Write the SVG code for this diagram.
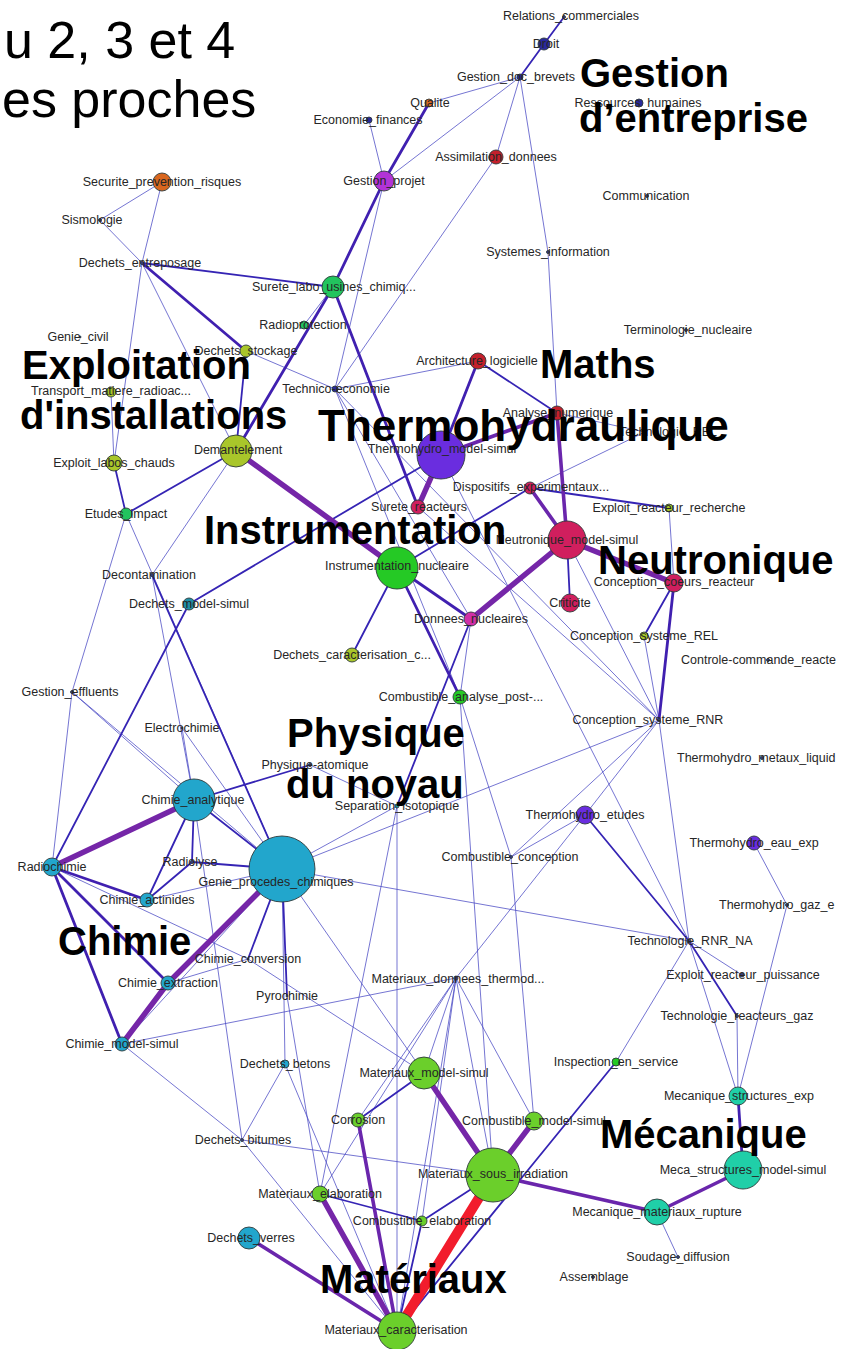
<svg xmlns="http://www.w3.org/2000/svg" width="843" height="1349" viewBox="0 0 843 1349">
<style>
.bg{fill:#ffffff}
line{stroke-linecap:round}
.t{stroke:#4a4ac4;stroke-width:0.9;stroke-opacity:0.85}
.m{stroke:#3524b4;stroke-width:1.8}
.h{stroke:#4020b0;stroke-width:2.8}
.q{stroke:#6a26ac;stroke-width:3.6}
.p{stroke:#7526a8;stroke-width:5.5}
.r{stroke:#f21c2c;stroke-width:10}
circle{stroke:#2e3a3a;stroke-width:0.9}
.or{fill:#d8661e}.db{fill:#2a2a9c}.pu{fill:#b233d6}.rd{fill:#c4202c}.gr{fill:#22c45e}
.yg{fill:#a9c62a}.vi{fill:#6a2ddf}.cr{fill:#d01f5e}.mg{fill:#d02fa8}.bgr{fill:#25c925}
.tb{fill:#1f8fa5}.cy{fill:#22a6cc}.li{fill:#6bcf2b}.te{fill:#20cfa8}.sm{fill:#3a3a8a}
text{font-family:"Liberation Sans",Arial,sans-serif}
.lb{font-size:12.5px;fill:#262626;text-anchor:middle}
.ls{font-size:12.5px;fill:#262626}
.cat{font-size:40px;font-weight:bold;fill:#000}
.ti{font-size:52px;fill:#000}
</style>
<rect class="bg" x="0" y="0" width="843" height="1349"/>
<g id="connectors">
<line class="t" x1="520" y1="77" x2="429" y2="103"/>
<line class="t" x1="520" y1="77" x2="384" y2="181"/>
<line class="t" x1="520" y1="77" x2="496" y2="157"/>
<line class="t" x1="520" y1="77" x2="548" y2="252"/>
<line class="t" x1="548" y1="252" x2="557" y2="413"/>
<line class="t" x1="369" y1="120" x2="384" y2="181"/>
<line class="t" x1="384" y1="181" x2="335" y2="389"/>
<line class="t" x1="496" y1="157" x2="335" y2="389"/>
<line class="t" x1="162" y1="182" x2="100" y2="220"/>
<line class="t" x1="100" y1="220" x2="142" y2="263"/>
<line class="t" x1="162" y1="182" x2="142" y2="263"/>
<line class="t" x1="142" y1="263" x2="114" y2="463"/>
<line class="t" x1="142" y1="263" x2="236" y2="451"/>
<line class="t" x1="333" y1="287" x2="304" y2="325"/>
<line class="t" x1="246" y1="351" x2="335" y2="389"/>
<line class="t" x1="335" y1="389" x2="478" y2="361"/>
<line class="t" x1="335" y1="389" x2="471" y2="619"/>
<line class="t" x1="335" y1="389" x2="659" y2="720"/>
<line class="t" x1="335" y1="389" x2="460" y2="697"/>
<line class="t" x1="557" y1="413" x2="645" y2="432"/>
<line class="t" x1="645" y1="432" x2="530" y2="488"/>
<line class="t" x1="441" y1="455" x2="689" y2="941"/>
<line class="t" x1="567" y1="540" x2="659" y2="720"/>
<line class="t" x1="669" y1="508" x2="674" y2="583"/>
<line class="t" x1="644" y1="636" x2="659" y2="720"/>
<line class="t" x1="236" y1="451" x2="152" y2="575"/>
<line class="t" x1="111" y1="392" x2="114" y2="463"/>
<line class="t" x1="126" y1="514" x2="72" y2="692"/>
<line class="t" x1="126" y1="514" x2="282" y2="869"/>
<line class="t" x1="152" y1="575" x2="194" y2="800"/>
<line class="t" x1="418" y1="507" x2="659" y2="720"/>
<line class="t" x1="471" y1="619" x2="460" y2="697"/>
<line class="t" x1="310" y1="765" x2="397" y2="806"/>
<line class="t" x1="52" y1="867" x2="72" y2="692"/>
<line class="t" x1="52" y1="867" x2="248" y2="959"/>
<line class="t" x1="194" y1="800" x2="242" y2="1140"/>
<line class="t" x1="147" y1="900" x2="282" y2="869"/>
<line class="t" x1="168" y1="983" x2="248" y2="959"/>
<line class="t" x1="282" y1="869" x2="285" y2="1064"/>
<line class="t" x1="282" y1="869" x2="659" y2="720"/>
<line class="t" x1="282" y1="869" x2="689" y2="941"/>
<line class="t" x1="282" y1="869" x2="397" y2="806"/>
<line class="t" x1="282" y1="869" x2="122" y2="1044"/>
<line class="t" x1="282" y1="869" x2="424" y2="1073"/>
<line class="t" x1="72" y1="692" x2="282" y2="869"/>
<line class="t" x1="72" y1="692" x2="194" y2="800"/>
<line class="t" x1="182" y1="728" x2="282" y2="869"/>
<line class="t" x1="182" y1="728" x2="194" y2="800"/>
<line class="t" x1="397" y1="806" x2="397" y2="1331"/>
<line class="t" x1="397" y1="806" x2="320" y2="1194"/>
<line class="t" x1="460" y1="697" x2="511" y2="857"/>
<line class="t" x1="511" y1="857" x2="585" y2="815"/>
<line class="t" x1="511" y1="857" x2="659" y2="720"/>
<line class="t" x1="511" y1="857" x2="534" y2="1121"/>
<line class="t" x1="585" y1="815" x2="456" y2="978"/>
<line class="t" x1="585" y1="815" x2="659" y2="720"/>
<line class="t" x1="659" y1="720" x2="689" y2="941"/>
<line class="t" x1="689" y1="941" x2="742" y2="975"/>
<line class="t" x1="689" y1="941" x2="738" y2="1096"/>
<line class="t" x1="689" y1="941" x2="616" y2="1062"/>
<line class="t" x1="737" y1="1016" x2="738" y2="1096"/>
<line class="t" x1="754" y1="843" x2="787" y2="905"/>
<line class="t" x1="787" y1="905" x2="738" y2="1096"/>
<line class="t" x1="657" y1="1212" x2="678" y2="1257"/>
<line class="t" x1="122" y1="1044" x2="456" y2="978"/>
<line class="t" x1="122" y1="1044" x2="242" y2="1140"/>
<line class="t" x1="242" y1="1140" x2="285" y2="1064"/>
<line class="t" x1="242" y1="1140" x2="493" y2="1175"/>
<line class="t" x1="242" y1="1140" x2="397" y2="1331"/>
<line class="t" x1="285" y1="1064" x2="397" y2="1331"/>
<line class="t" x1="287" y1="996" x2="320" y2="1194"/>
<line class="t" x1="248" y1="959" x2="424" y2="1073"/>
<line class="t" x1="456" y1="978" x2="424" y2="1073"/>
<line class="t" x1="456" y1="978" x2="493" y2="1175"/>
<line class="t" x1="456" y1="978" x2="534" y2="1121"/>
<line class="t" x1="456" y1="978" x2="320" y2="1194"/>
<line class="t" x1="456" y1="978" x2="422" y2="1221"/>
<line class="t" x1="456" y1="978" x2="397" y2="1331"/>
<line class="t" x1="456" y1="978" x2="358" y2="1120"/>
<line class="t" x1="460" y1="697" x2="493" y2="1175"/>
<line class="m" x1="564" y1="17" x2="544" y2="44"/>
<line class="m" x1="544" y1="44" x2="520" y2="77"/>
<line class="m" x1="142" y1="263" x2="333" y2="287"/>
<line class="m" x1="246" y1="351" x2="236" y2="451"/>
<line class="m" x1="478" y1="361" x2="557" y2="413"/>
<line class="m" x1="530" y1="488" x2="669" y2="508"/>
<line class="m" x1="530" y1="488" x2="397" y2="568"/>
<line class="m" x1="189" y1="604" x2="441" y2="455"/>
<line class="m" x1="567" y1="540" x2="570" y2="603"/>
<line class="m" x1="674" y1="583" x2="644" y2="636"/>
<line class="m" x1="397" y1="568" x2="352" y2="655"/>
<line class="m" x1="236" y1="451" x2="126" y2="514"/>
<line class="m" x1="114" y1="463" x2="126" y2="514"/>
<line class="m" x1="152" y1="575" x2="282" y2="869"/>
<line class="m" x1="189" y1="604" x2="52" y2="867"/>
<line class="m" x1="471" y1="619" x2="397" y2="806"/>
<line class="m" x1="194" y1="800" x2="310" y2="765"/>
<line class="m" x1="194" y1="800" x2="147" y2="900"/>
<line class="m" x1="194" y1="800" x2="192" y2="862"/>
<line class="m" x1="194" y1="800" x2="282" y2="869"/>
<line class="m" x1="192" y1="862" x2="282" y2="869"/>
<line class="m" x1="192" y1="862" x2="147" y2="900"/>
<line class="m" x1="282" y1="869" x2="248" y2="959"/>
<line class="m" x1="282" y1="869" x2="287" y2="996"/>
<line class="m" x1="585" y1="815" x2="689" y2="941"/>
<line class="m" x1="689" y1="941" x2="737" y2="1016"/>
<line class="m" x1="616" y1="1062" x2="397" y2="1331"/>
<line class="m" x1="424" y1="1073" x2="358" y2="1120"/>
<line class="m" x1="422" y1="1221" x2="397" y2="1331"/>
<line class="m" x1="422" y1="1221" x2="493" y2="1175"/>
<line class="m" x1="320" y1="1194" x2="422" y2="1221"/>
<line class="h" x1="429" y1="103" x2="384" y2="181"/>
<line class="h" x1="384" y1="181" x2="333" y2="287"/>
<line class="h" x1="142" y1="263" x2="246" y2="351"/>
<line class="h" x1="333" y1="287" x2="418" y2="507"/>
<line class="h" x1="333" y1="287" x2="236" y2="451"/>
<line class="h" x1="478" y1="361" x2="441" y2="455"/>
<line class="h" x1="674" y1="583" x2="659" y2="720"/>
<line class="h" x1="397" y1="568" x2="471" y2="619"/>
<line class="h" x1="397" y1="568" x2="460" y2="697"/>
<line class="h" x1="52" y1="867" x2="147" y2="900"/>
<line class="h" x1="52" y1="867" x2="168" y2="983"/>
<line class="h" x1="52" y1="867" x2="122" y2="1044"/>
<line class="h" x1="738" y1="1096" x2="743" y2="1170"/>
<line class="q" x1="441" y1="455" x2="557" y2="413"/>
<line class="q" x1="557" y1="413" x2="567" y2="540"/>
<line class="q" x1="530" y1="488" x2="567" y2="540"/>
<line class="q" x1="743" y1="1170" x2="657" y2="1212"/>
<line class="q" x1="493" y1="1175" x2="657" y2="1212"/>
<line class="q" x1="358" y1="1120" x2="397" y2="1331"/>
<line class="q" x1="249" y1="1238" x2="397" y2="1331"/>
<line class="p" x1="441" y1="455" x2="418" y2="507"/>
<line class="p" x1="567" y1="540" x2="674" y2="583"/>
<line class="p" x1="567" y1="540" x2="471" y2="619"/>
<line class="p" x1="236" y1="451" x2="397" y2="568"/>
<line class="p" x1="194" y1="800" x2="52" y2="867"/>
<line class="p" x1="282" y1="869" x2="168" y2="983"/>
<line class="p" x1="168" y1="983" x2="122" y2="1044"/>
<line class="p" x1="424" y1="1073" x2="493" y2="1175"/>
<line class="p" x1="534" y1="1121" x2="493" y2="1175"/>
<line class="p" x1="320" y1="1194" x2="397" y2="1331"/>
<line class="r" x1="493" y1="1175" x2="397" y2="1331"/>
</g>
<g id="n-relations"><circle class="sm" cx="564" cy="17" r="1.5"/><text class="lb" x="571" y="20">Relations_commerciales</text></g>
<g id="n-droit"><circle class="db" cx="544" cy="44" r="6"/><text class="lb" x="546" y="48">Droit</text></g>
<g id="n-gestion-doc"><circle class="db" cx="520" cy="77" r="3"/><text class="lb" x="516" y="81">Gestion_doc_brevets</text></g>
<g id="n-qualite"><circle class="or" cx="429" cy="103" r="4"/><text class="lb" x="430" y="107">Qualite</text></g>
<g id="n-economie"><circle class="db" cx="369" cy="120" r="3"/><text class="lb" x="368" y="124">Economie_finances</text></g>
<g id="n-assimilation"><circle class="rd" cx="496" cy="157" r="7"/><text class="lb" x="496" y="161">Assimilation_donnees</text></g>
<g id="n-gestion-projet"><circle class="pu" cx="384" cy="181" r="10"/><text class="lb" x="384" y="185">Gestion_projet</text></g>
<g id="n-ressources"><circle class="db" cx="639" cy="103" r="4"/><text class="lb" x="638" y="107">Ressources_humaines</text></g>
<g id="n-communication"><circle class="sm" cx="647" cy="196" r="1.5"/><text class="lb" x="646" y="200">Communication</text></g>
<g id="n-systemes"><circle class="sm" cx="548" cy="252" r="1.5"/><text class="lb" x="548" y="256">Systemes_information</text></g>
<g id="n-terminologie"><circle class="sm" cx="686" cy="330" r="1.5"/><text class="lb" x="688" y="334">Terminologie_nucleaire</text></g>
<g id="n-securite"><circle class="or" cx="162" cy="182" r="9"/><text class="lb" x="162" y="186">Securite_prevention_risques</text></g>
<g id="n-sismologie"><circle class="sm" cx="100" cy="220" r="1.5"/><text class="lb" x="92" y="224">Sismologie</text></g>
<g id="n-dechets-entreposage"><circle class="sm" cx="142" cy="263" r="1.5"/><text class="lb" x="140" y="267">Dechets_entreposage</text></g>
<g id="n-surete-labo"><circle class="gr" cx="333" cy="287" r="11"/><text class="lb" x="334" y="291">Surete_labo_usines_chimiq...</text></g>
<g id="n-radioprotection"><circle class="gr" cx="304" cy="325" r="4"/><text class="lb" x="303" y="329">Radioprotection</text></g>
<g id="n-genie-civil"><circle class="sm" cx="80" cy="337" r="1"/><text class="lb" x="78" y="341">Genie_civil</text></g>
<g id="n-dechets-stockage"><circle class="yg" cx="246" cy="351" r="6"/><text class="lb" x="246" y="355">Dechets_stockage</text></g>
<g id="n-transport"><circle class="yg" cx="111" cy="392" r="5"/><text class="lb" x="111" y="395">Transport_matiere_radioac...</text></g>
<g id="n-technico"><circle class="db" cx="335" cy="389" r="3"/><text class="lb" x="336" y="393">Technico-economie</text></g>
<g id="n-architecture"><circle class="rd" cx="478" cy="361" r="8"/><text class="lb" x="477" y="365">Architecture_logicielle</text></g>
<g id="n-analyse"><circle class="rd" cx="557" cy="413" r="7"/><text class="lb" x="558" y="417">Analyse_numerique</text></g>
<g id="n-techno-rel"><circle class="sm" cx="645" cy="432" r="1.5"/><text class="lb" x="668" y="436">Technologie_REL</text></g>
<g id="n-thermo-model"><circle class="vi" cx="441" cy="455" r="24"/><text class="lb" x="442" y="453">Thermohydro_model-simul</text></g>
<g id="n-demantelement"><circle class="yg" cx="236" cy="451" r="16"/><text class="lb" x="238" y="454">Demantelement</text></g>
<g id="n-exploit-labos"><circle class="yg" cx="114" cy="463" r="8"/><text class="lb" x="114" y="467">Exploit_labos_chauds</text></g>
<g id="n-dispositifs"><circle class="cr" cx="530" cy="488" r="6"/><text class="lb" x="531" y="491">Dispositifs_experimentaux...</text></g>
<g id="n-exploit-recherche"><circle class="yg" cx="669" cy="508" r="4"/><text class="lb" x="669" y="512">Exploit_reacteur_recherche</text></g>
<g id="n-etudes-impact"><circle class="gr" cx="126" cy="514" r="6"/><text class="lb" x="126" y="518">Etudes_impact</text></g>
<g id="n-surete-reacteurs"><circle class="cr" cx="418" cy="507" r="7"/><text class="lb" x="419" y="511">Surete_reacteurs</text></g>
<g id="n-neutro-model"><circle class="cr" cx="567" cy="540" r="19"/><text class="lb" x="567" y="544">Neutronique_model-simul</text></g>
<g id="n-instrumentation"><circle class="bgr" cx="397" cy="568" r="21"/><text class="lb" x="397" y="570">Instrumentation_nucleaire</text></g>
<g id="n-conception-coeurs"><circle class="cr" cx="674" cy="583" r="9"/><text class="lb" x="674" y="586">Conception_coeurs_reacteur</text></g>
<g id="n-decontamination"><circle class="sm" cx="152" cy="575" r="1.5"/><text class="lb" x="149" y="579">Decontamination</text></g>
<g id="n-dechets-model"><circle class="tb" cx="189" cy="604" r="6"/><text class="lb" x="189" y="608">Dechets_model-simul</text></g>
<g id="n-criticite"><circle class="cr" cx="570" cy="603" r="9"/><text class="lb" x="570" y="607">Criticite</text></g>
<g id="n-donnees"><circle class="mg" cx="471" cy="619" r="7"/><text class="lb" x="471" y="623">Donnees_nucleaires</text></g>
<g id="n-conception-rel"><circle class="yg" cx="644" cy="636" r="4"/><text class="lb" x="644" y="640">Conception_systeme_REL</text></g>
<g id="n-dechets-caract"><circle class="yg" cx="352" cy="655" r="7"/><text class="lb" x="352" y="659">Dechets_caracterisation_c...</text></g>
<g id="n-controle"><circle class="sm" cx="768" cy="660" r="1.5"/><text class="ls" x="681" y="664">Controle-commande_reacte</text></g>
<g id="n-gestion-effluents"><circle class="sm" cx="72" cy="692" r="1.5"/><text class="lb" x="70" y="696">Gestion_effluents</text></g>
<g id="n-comb-analyse"><circle class="bgr" cx="460" cy="697" r="7"/><text class="lb" x="461" y="701">Combustible_analyse_post-...</text></g>
<g id="n-electrochimie"><circle class="sm" cx="182" cy="728" r="1"/><text class="lb" x="182" y="732">Electrochimie</text></g>
<g id="n-conception-rnr"><circle class="sm" cx="659" cy="720" r="1.5"/><text class="lb" x="648" y="724">Conception_systeme_RNR</text></g>
<g id="n-thermo-metaux"><circle class="sm" cx="762" cy="758" r="1.5"/><text class="ls" x="677" y="762">Thermohydro_metaux_liquid</text></g>
<g id="n-physique-atomique"><circle class="db" cx="310" cy="765" r="1.5"/><text class="lb" x="315" y="769">Physique-atomique</text></g>
<g id="n-chimie-analytique"><circle class="cy" cx="194" cy="800" r="21"/><text class="lb" x="193" y="804">Chimie_analytique</text></g>
<g id="n-separation"><circle class="tb" cx="397" cy="806" r="2"/><text class="lb" x="397" y="810">Separation_isotopique</text></g>
<g id="n-thermo-etudes"><circle class="vi" cx="585" cy="815" r="9"/><text class="lb" x="585" y="819">Thermohydro_etudes</text></g>
<g id="n-thermo-eau"><circle class="vi" cx="754" cy="843" r="7"/><text class="lb" x="754" y="847">Thermohydro_eau_exp</text></g>
<g id="n-comb-conception"><circle class="sm" cx="511" cy="857" r="1.5"/><text class="lb" x="510" y="861">Combustible_conception</text></g>
<g id="n-radiochimie"><circle class="cy" cx="52" cy="867" r="9"/><text class="lb" x="52" y="871">Radiochimie</text></g>
<g id="n-radiolyse"><circle class="sm" cx="192" cy="862" r="1.5"/><text class="lb" x="190" y="866">Radiolyse</text></g>
<g id="n-genie-procedes"><circle class="cy" cx="282" cy="869" r="33"/><text class="lb" x="276" y="886">Genie_procedes_chimiques</text></g>
<g id="n-chimie-actinides"><circle class="cy" cx="147" cy="900" r="7"/><text class="lb" x="147" y="904">Chimie_actinides</text></g>
<g id="n-thermo-gaz"><circle class="sm" cx="787" cy="905" r="1.5"/><text class="ls" x="719" y="909">Thermohydro_gaz_e</text></g>
<g id="n-techno-rnr"><circle class="sm" cx="689" cy="941" r="2"/><text class="lb" x="690" y="945">Technologie_RNR_NA</text></g>
<g id="n-chimie-conversion"><circle class="sm" cx="248" cy="959" r="1"/><text class="lb" x="248" y="963">Chimie_conversion</text></g>
<g id="n-exploit-puissance"><circle class="sm" cx="742" cy="975" r="2"/><text class="lb" x="743" y="979">Exploit_reacteur_puissance</text></g>
<g id="n-mat-donnees"><circle class="sm" cx="456" cy="978" r="2"/><text class="lb" x="458" y="983">Materiaux_donnees_thermod...</text></g>
<g id="n-chimie-extraction"><circle class="cy" cx="168" cy="983" r="7"/><text class="lb" x="168" y="987">Chimie_extraction</text></g>
<g id="n-pyrochimie"><circle class="sm" cx="287" cy="996" r="1"/><text class="lb" x="287" y="1000">Pyrochimie</text></g>
<g id="n-techno-gaz"><circle class="sm" cx="737" cy="1016" r="1.5"/><text class="lb" x="737" y="1020">Technologie_reacteurs_gaz</text></g>
<g id="n-chimie-model"><circle class="cy" cx="122" cy="1044" r="7"/><text class="lb" x="122" y="1048">Chimie_model-simul</text></g>
<g id="n-dechets-betons"><circle class="cy" cx="285" cy="1064" r="4"/><text class="lb" x="285" y="1068">Dechets_betons</text></g>
<g id="n-mat-model"><circle class="li" cx="424" cy="1073" r="16"/><text class="lb" x="424" y="1077">Materiaux_model-simul</text></g>
<g id="n-inspection"><circle class="bgr" cx="616" cy="1062" r="4"/><text class="lb" x="616" y="1066">Inspection_en_service</text></g>
<g id="n-meca-exp"><circle class="te" cx="738" cy="1096" r="9"/><text class="lb" x="739" y="1100">Mecanique_structures_exp</text></g>
<g id="n-corrosion"><circle class="li" cx="358" cy="1120" r="7"/><text class="lb" x="358" y="1124">Corrosion</text></g>
<g id="n-comb-model"><circle class="li" cx="534" cy="1121" r="9"/><text class="lb" x="534" y="1125">Combustible_model-simul</text></g>
<g id="n-dechets-bitumes"><circle class="sm" cx="242" cy="1140" r="1.5"/><text class="lb" x="243" y="1144">Dechets_bitumes</text></g>
<g id="n-meca-model"><circle class="te" cx="743" cy="1170" r="19"/><text class="lb" x="743" y="1174">Meca_structures_model-simul</text></g>
<g id="n-mat-irradiation"><circle class="li" cx="493" cy="1175" r="27"/><text class="lb" x="493" y="1178">Materiaux_sous_irradiation</text></g>
<g id="n-mat-elaboration"><circle class="li" cx="320" cy="1194" r="8"/><text class="lb" x="320" y="1198">Materiaux_elaboration</text></g>
<g id="n-meca-rupture"><circle class="te" cx="657" cy="1212" r="13"/><text class="lb" x="657" y="1216">Mecanique_materiaux_rupture</text></g>
<g id="n-comb-elaboration"><circle class="li" cx="422" cy="1221" r="5"/><text class="lb" x="422" y="1225">Combustible_elaboration</text></g>
<g id="n-dechets-verres"><circle class="cy" cx="249" cy="1238" r="11"/><text class="lb" x="251" y="1242">Dechets_verres</text></g>
<g id="n-soudage"><circle class="sm" cx="678" cy="1257" r="1.5"/><text class="lb" x="678" y="1261">Soudage_diffusion</text></g>
<g id="n-assemblage"><circle class="sm" cx="593" cy="1277" r="1.5"/><text class="lb" x="594" y="1281">Assemblage</text></g>
<g id="n-mat-caract"><circle class="li" cx="397" cy="1331" r="19"/><text class="lb" x="396" y="1334">Materiaux_caracterisation</text></g>
<g id="categories">
<text class="ti" x="4" y="58">u 2, 3 et 4</text>
<text class="ti" x="2" y="117">es proches</text>
<text class="cat" x="580" y="87">Gestion</text>
<text class="cat" x="579" y="132">d’entreprise</text>
<text class="cat" x="22" y="379">Exploitation</text>
<text class="cat" x="20" y="429">d'installations</text>
<text class="cat" x="318" y="441" style="font-size:44px">Thermohydraulique</text>
<text class="cat" x="540" y="378">Maths</text>
<text class="cat" x="204" y="544">Instrumentation</text>
<text class="cat" x="598" y="574">Neutronique</text>
<text class="cat" x="287" y="747">Physique</text>
<text class="cat" x="286" y="798">du noyau</text>
<text class="cat" x="58" y="955">Chimie</text>
<text class="cat" x="600" y="1148">Mécanique</text>
<text class="cat" x="320" y="1293">Matériaux</text>
</g>
</svg>
